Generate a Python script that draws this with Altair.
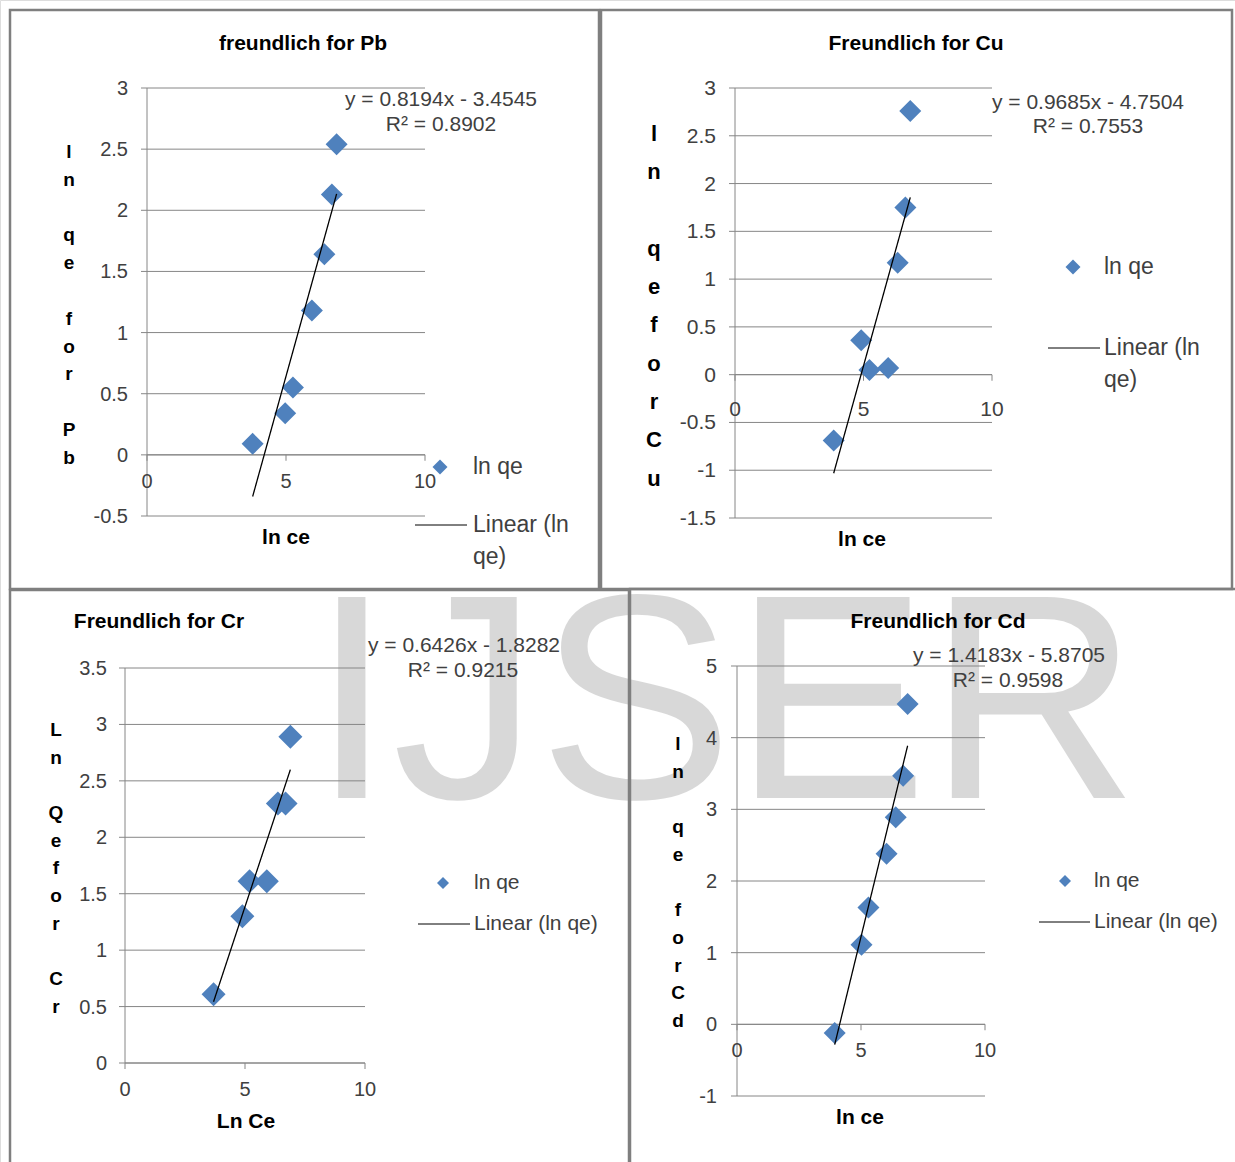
import altair as alt
import pandas as pd

W, H = 1235, 1162
BLUE = "#4F81BD"
GRID = "#868686"
TXT = "#404040"
FONT = "Liberation Sans"

SERIES = "ln qe"
TREND = "Linear (ln qe)"
WATERMARK = "IJSER"

# ---------------- data ----------------
pb_lnce = [3.80, 4.97, 5.25, 5.93, 6.38, 6.65, 6.82]
pb_lnqe = [0.09, 0.34, 0.55, 1.18, 1.64, 2.13, 2.54]
pb_fit = (0.8194, -3.4545)
pb_eq = ["y = 0.8194x - 3.4545", "R² = 0.8902"]
pb_title = "freundlich for Pb"
pb_xtitle = "ln ce"
pb_ytitle = "ln qe for Pb"
pb_xticks = [0, 5, 10]
pb_yticks = [-0.5, 0, 0.5, 1, 1.5, 2, 2.5, 3]

cu_lnce = [3.84, 4.91, 5.23, 5.96, 6.33, 6.63, 6.82]
cu_lnqe = [-0.69, 0.36, 0.05, 0.07, 1.17, 1.75, 2.76]
cu_fit = (0.9685, -4.7504)
cu_eq = ["y = 0.9685x - 4.7504", "R² = 0.7553"]
cu_title = "Freundlich for Cu"
cu_xtitle = "ln ce"
cu_ytitle = "ln qeforCu"
cu_xticks = [0, 5, 10]
cu_yticks = [-1.5, -1, -0.5, 0, 0.5, 1, 1.5, 2, 2.5, 3]

cr_lnce = [3.69, 4.89, 5.19, 5.91, 6.37, 6.69, 6.89]
cr_lnqe = [0.61, 1.30, 1.61, 1.61, 2.30, 2.30, 2.89]
cr_fit = (0.6426, -1.8282)
cr_eq = ["y = 0.6426x - 1.8282", "R² = 0.9215"]
cr_title = "Freundlich for Cr"
cr_xtitle = "Ln Ce"
cr_ytitle = "Ln Qefor Cr"
cr_xticks = [0, 5, 10]
cr_yticks = [0, 0.5, 1, 1.5, 2, 2.5, 3, 3.5]

cd_lnce = [3.94, 5.02, 5.30, 6.03, 6.40, 6.70, 6.88]
cd_lnqe = [-0.12, 1.11, 1.63, 2.38, 2.89, 3.47, 4.47]
cd_fit = (1.4183, -5.8705)
cd_eq = ["y = 1.4183x - 5.8705", "R² = 0.9598"]
cd_title = "Freundlich for Cd"
cd_xtitle = "ln ce"
cd_ytitle = "ln qe forCd"
cd_xticks = [0, 5, 10]
cd_yticks = [-1, 0, 1, 2, 3, 4, 5]

panels = [
    dict(x=pb_lnce, y=pb_lnqe, fit=pb_fit, eq=pb_eq, title=pb_title, xtitle=pb_xtitle,
         ytitle=pb_ytitle, xticks=pb_xticks, yticks=pb_yticks),
    dict(x=cu_lnce, y=cu_lnqe, fit=cu_fit, eq=cu_eq, title=cu_title, xtitle=cu_xtitle,
         ytitle=cu_ytitle, xticks=cu_xticks, yticks=cu_yticks),
    dict(x=cr_lnce, y=cr_lnqe, fit=cr_fit, eq=cr_eq, title=cr_title, xtitle=cr_xtitle,
         ytitle=cr_ytitle, xticks=cr_xticks, yticks=cr_yticks),
    dict(x=cd_lnce, y=cd_lnqe, fit=cd_fit, eq=cd_eq, title=cd_title, xtitle=cd_xtitle,
         ytitle=cd_ytitle, xticks=cd_xticks, yticks=cd_yticks),
]

# ---------------- layout (pixels) ----------------
layouts = [
    dict(xr=[147, 425], yr=[516, 88], xdom=[0, 10], ydom=[-0.5, 3], tick_fs=20,
         xlab_dy=27, ylab_dx=19,
         xt=(286, 538), yt=(69, 152), yt_fs=19, yt_lh=27.8,
         title_xy=(303, 44), eq1=(441, 100), eq2=(441, 125),
         msize=22, leg_pt=(440, 467), leg_d=15, leg_lx=473, leg_fs=23,
         leg_tr=(415, 467, 525), tr_lx=473, wrap=True),
    dict(xr=[735, 992], yr=[518, 88], xdom=[0, 10], ydom=[-1.5, 3], tick_fs=21,
         xlab_dy=35, ylab_dx=19,
         xt=(862, 540), yt=(654, 134), yt_fs=22, yt_lh=38.3,
         title_xy=(916, 44), eq1=(1088, 103), eq2=(1088, 127),
         msize=22, leg_pt=(1073, 267), leg_d=15, leg_lx=1104, leg_fs=23,
         leg_tr=(1048, 1100, 348), tr_lx=1104, wrap=True),
    dict(xr=[125, 365], yr=[1063, 668], xdom=[0, 10], ydom=[0, 3.5], tick_fs=20,
         xlab_dy=27, ylab_dx=18,
         xt=(246, 1122), yt=(56, 730), yt_fs=19, yt_lh=27.7,
         title_xy=(159, 622), eq1=(464, 646), eq2=(463, 671),
         msize=24, leg_pt=(443, 883), leg_d=12, leg_lx=474, leg_fs=21,
         leg_tr=(418, 470, 924), tr_lx=474, wrap=False),
    dict(xr=[737, 985], yr=[1096, 666], xdom=[0, 10], ydom=[-1, 5], tick_fs=20,
         xlab_dy=27, ylab_dx=20,
         xt=(860, 1118), yt=(678, 744), yt_fs=19, yt_lh=27.7,
         title_xy=(938, 622), eq1=(1009, 656), eq2=(1008, 681),
         msize=22, leg_pt=(1065, 881), leg_d=12, leg_lx=1094, leg_fs=21,
         leg_tr=(1039, 1090, 922), tr_lx=1094, wrap=False),
]
LEGEND_LINE_HEIGHT = 31.5


def word_groups(s):
    """Split a stacked (one letter per line) title into its words and the line index
    where each word starts; a space takes one empty line."""
    groups, idx = [], 0
    for word in s.split(" "):
        groups.append((idx, list(word)))
        idx += len(word) + 1
    return groups


def text_chart(txt, x, y, **kw):
    return alt.Chart(pd.DataFrame({"t": [txt]})).mark_text(font=FONT, **kw).encode(
        text="t:N", x=alt.value(x), y=alt.value(y))


def make_panel(P, L):
    df = pd.DataFrame({"lnce": P["x"], "lnqe": P["y"]})
    df["series"] = SERIES
    df["trend"] = TREND
    slope, icpt = P["fit"]
    xr, yr, xd, yd = L["xr"], L["yr"], L["xdom"], L["ydom"]

    xs = alt.Scale(domain=xd, range=xr, nice=False, zero=False)
    ys = alt.Scale(domain=yd, range=yr, nice=False, zero=False)

    def X(f):
        return alt.X(f, scale=xs, axis=None)

    def Y(f):
        return alt.Y(f, scale=ys, axis=None)

    def XD(v):
        return alt.XDatum(v, scale=xs, axis=None)

    def YD(v):
        return alt.YDatum(v, scale=ys, axis=None)

    ydf = pd.DataFrame({"yv": P["yticks"], "lab": [f"{v:g}" for v in P["yticks"]]})
    xdf = pd.DataFrame({"xv": P["xticks"], "lab": [f"{v:g}" for v in P["xticks"]]})
    one = pd.DataFrame({"k": [0]})

    # axes drawn through the panel's scales
    grid = alt.Chart(ydf).mark_rule(color=GRID, strokeWidth=1).encode(
        y=Y("yv:Q"), x=XD(xd[0]), x2=alt.X2Datum(xd[1]))
    yline = alt.Chart(one).mark_rule(color=GRID, strokeWidth=1).encode(
        x=XD(0), y=YD(yd[0]), y2=alt.Y2Datum(yd[1]))
    xline = alt.Chart(one).mark_rule(color=GRID, strokeWidth=1).encode(
        y=YD(0), x=XD(xd[0]), x2=alt.X2Datum(xd[1]))
    yticks = alt.Chart(ydf).mark_tick(orient="horizontal", size=6, thickness=1, xOffset=-3,
                                      color=GRID, opacity=1).encode(x=XD(0), y=Y("yv:Q"))
    xticks = alt.Chart(xdf).mark_tick(orient="vertical", size=6, thickness=1, yOffset=3,
                                      color=GRID, opacity=1).encode(x=X("xv:Q"), y=YD(0))
    ylabs = alt.Chart(ydf).mark_text(align="right", baseline="middle", dx=-L["ylab_dx"], dy=1,
                                     font=FONT, fontSize=L["tick_fs"], color=TXT).encode(
        x=XD(0), y=Y("yv:Q"), text="lab:N")
    xlabs = alt.Chart(xdf).mark_text(align="center", baseline="middle", dy=L["xlab_dy"],
                                     font=FONT, fontSize=L["tick_fs"], color=TXT).encode(
        x=X("xv:Q"), y=YD(0), text="lab:N")

    # legends
    fs = L["leg_fs"]
    cx, cy = L["leg_pt"]
    lx = cx - fs / 2
    pt_leg = alt.Legend(title=None, orient="none", legendX=lx, legendY=cy - fs / 2, padding=0,
                        symbolType="diamond", symbolSize=L["leg_d"] ** 2, symbolStrokeWidth=0,
                        symbolFillColor=BLUE, labelFont=FONT, labelFontSize=fs, labelColor=TXT,
                        labelOffset=L["leg_lx"] - lx - fs, labelLimit=400)
    x1, x2, ty = L["leg_tr"]
    ln = x2 - x1
    tlx = x1 - 0.5
    tr_kw = dict(title=None, orient="none", legendX=tlx, legendY=ty - (ln + 1) / 2, padding=0,
                 symbolType="stroke", symbolSize=ln * ln, symbolStrokeWidth=1,
                 symbolStrokeColor="black", labelFont=FONT, labelFontSize=fs, labelColor=TXT,
                 labelOffset=L["tr_lx"] - tlx - (ln + 1), labelLimit=400)
    if L["wrap"]:
        tr_kw["labelExpr"] = "[slice(datum.label, 0, 10), slice(datum.label, 11)]"
    tr_leg = alt.Legend(**tr_kw)

    base = alt.Chart(df)
    pts = base.mark_point(filled=True, opacity=1, size=L["msize"] ** 2, color=BLUE,
                          strokeWidth=0).encode(
        x=X("lnce:Q"),
        y=Y("lnqe:Q"),
        shape=alt.Shape("series:N", scale=alt.Scale(domain=[SERIES], range=["diamond"]),
                        legend=pt_leg),
    )
    line = base.transform_calculate(fit=f"{slope} * datum.lnce + ({icpt})").mark_line(
        color="black", strokeWidth=1.3).encode(
        x=X("lnce:Q"),
        y=Y("fit:Q"),
        strokeDash=alt.StrokeDash("trend:N", scale=alt.Scale(domain=[TREND], range=[[1, 0]]),
                                  legend=tr_leg),
    )

    title = text_chart(P["title"], *L["title_xy"], fontSize=21, fontWeight="bold",
                       color="black", align="center", baseline="middle")
    eq1 = text_chart(P["eq"][0], *L["eq1"], fontSize=21, color=TXT, align="center",
                     baseline="middle")
    eq2 = text_chart(P["eq"][1], *L["eq2"], fontSize=21, color=TXT, align="center",
                     baseline="middle")
    xtitle = text_chart(P["xtitle"], *L["xt"], fontSize=21, fontWeight="bold",
                        color="black", align="center", baseline="middle")

    ytitle_parts = []
    for idx, chars in word_groups(P["ytitle"]):
        ytitle_parts.append(
            alt.Chart(alt.Data(values=[{"t": chars}])).mark_text(
                font=FONT, fontSize=L["yt_fs"], fontWeight="bold", color="black",
                align="center", baseline="middle", lineHeight=L["yt_lh"]).encode(
                text="t:N", x=alt.value(L["yt"][0]),
                y=alt.value(L["yt"][1] + idx * L["yt_lh"])))

    return alt.layer(grid, yline, xline, yticks, xticks, ylabs, xlabs, pts, line,
                     title, eq1, eq2, xtitle, *ytitle_parts)


watermark = alt.Chart(pd.DataFrame({"t": [WATERMARK]})).mark_text(
    font=FONT, fontSize=292, color="black", opacity=0.15, align="center",
    baseline="alphabetic").encode(text="t:N", x=alt.value(725), y=alt.value(798))


def box(x1, x2, y1, y2):
    return alt.Chart(pd.DataFrame({"k": [0]})).mark_rect(
        fillOpacity=0, stroke="#7F7F7F", strokeWidth=2.5).encode(
        x=alt.value(x1), x2=alt.value(x2), y=alt.value(y1), y2=alt.value(y2))


borders = [box(10, 599, 10, 589), box(601, 1232, 10, 589),
           box(10, 629, 590, 1164), box(630, 1237, 589, 1164)]

panel_charts = [make_panel(P, L) for P, L in zip(panels, layouts)]

chart = alt.layer(watermark, *panel_charts, *borders).resolve_scale(
    x="independent", y="independent", shape="independent", strokeDash="independent"
).properties(
    width=W, height=H, padding=0, autosize=alt.AutoSizeParams(type="none")
).configure_view(stroke=None).configure(
    background="white", style={"guide-label": {"lineHeight": LEGEND_LINE_HEIGHT}})

chart.save("out.html", embed_options={"renderer": "svg", "actions": False})
